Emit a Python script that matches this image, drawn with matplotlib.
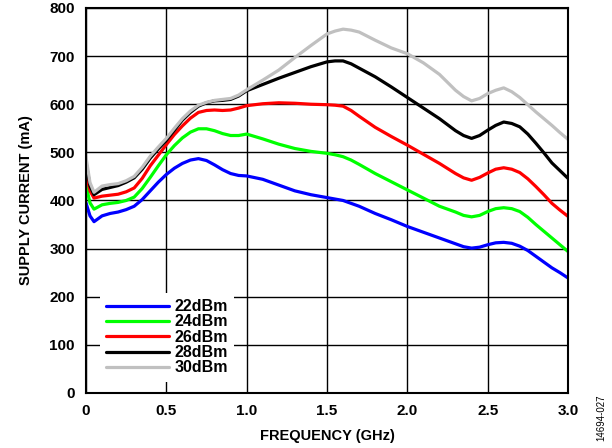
import matplotlib
matplotlib.use("Agg")
import matplotlib.pyplot as plt

plt.rcParams['font.family'] = ['Liberation Sans', 'DejaVu Sans']

# frequency points (GHz)
freq = [0, 0.025, 0.05, 0.1, 0.15, 0.2, 0.25, 0.3, 0.35, 0.4,
        0.45, 0.5, 0.55, 0.6, 0.65, 0.7, 0.75, 0.8, 0.85, 0.9,
        0.95, 1.0, 1.1, 1.2, 1.3, 1.4, 1.5, 1.55, 1.6, 1.65,
        1.7, 1.8, 1.9, 2.0, 2.1, 2.2, 2.3, 2.35, 2.4, 2.45,
        2.5, 2.55, 2.6, 2.65, 2.7, 2.75, 2.8, 2.85, 2.9, 2.95, 3.0]

# supply current (mA) per output power
i_22 = [395, 368, 356, 368, 373, 376, 381, 388, 402, 420,
        438, 454, 467, 477, 484, 487, 483, 474, 464, 456,
        452, 451, 444, 432, 420, 412, 406, 403, 400, 394,
        388, 373, 360, 346, 334, 322, 310, 304, 301, 303,
        308, 312, 313, 311, 305, 296, 284, 272, 260, 250, 239]
i_24 = [432, 395, 382, 391, 394, 396, 400, 407, 425, 448,
        472, 495, 514, 530, 542, 549, 549, 545, 539, 535,
        535, 538, 528, 517, 508, 502, 498, 495, 491, 484,
        475, 456, 439, 422, 405, 388, 376, 369, 366, 369,
        377, 383, 385, 383, 377, 365, 350, 336, 322, 308, 294]
i_26 = [458, 420, 405, 409, 411, 413, 418, 426, 446, 472,
        494, 516, 537, 555, 571, 583, 587, 588, 587, 588,
        592, 597, 601, 603, 602, 600, 599, 598, 596, 587,
        575, 552, 533, 515, 496, 477, 456, 447, 442, 448,
        457, 465, 468, 465, 458, 445, 429, 412, 394, 380, 367]
i_28 = [480, 430, 412, 423, 427, 431, 438, 447, 465, 488,
        507, 525, 546, 567, 583, 596, 603, 607, 608, 610,
        617, 628, 641, 654, 666, 678, 688, 690, 690, 684,
        675, 657, 636, 614, 592, 570, 545, 535, 529, 535,
        546, 556, 563, 560, 553, 538, 519, 499, 478, 462, 446]
i_30 = [490, 437, 417, 430, 433, 435, 441, 450, 469, 492,
        511, 529, 550, 570, 586, 598, 604, 608, 610, 612,
        619, 630, 650, 671, 697, 722, 746, 752, 756, 754,
        750, 733, 717, 705, 686, 662, 629, 616, 607, 612,
        622, 629, 634, 626, 614, 599, 584, 570, 556, 541, 527]

labels = ["22dBm", "24dBm", "26dBm", "28dBm", "30dBm"]
colors = ["#0000ff", "#00ff00", "#ff0000", "#000000", "#c0c0c0"]
series = [i_22, i_24, i_26, i_28, i_30]

fig = plt.figure(figsize=(6.12, 4.48), dpi=100)
ax = fig.add_axes([0.1405, 0.1228, 0.7876, 0.8594])

for y, c, lab in zip(series, colors, labels):
    ax.plot(freq, y, color=c, lw=2.3, label=lab,
            solid_capstyle="round", solid_joinstyle="round")

ax.set_xlim(0, 3.0)
ax.set_ylim(0, 800)
ax.set_xticks([0, 0.5, 1.0, 1.5, 2.0, 2.5, 3.0])
ax.set_xticklabels(["0", "0.5", "1.0", "1.5", "2.0", "2.5", "3.0"])
ax.set_yticks(range(0, 801, 100))
ax.grid(True, color="black", lw=1.0)
ax.set_axisbelow(True)
ax.tick_params(length=0, labelsize=11, pad=8)
for t in ax.get_xticklabels() + ax.get_yticklabels():
    t.set_fontweight("bold")
for s in ax.spines.values():
    s.set_linewidth(1.5)

ax.set_xlabel("FREQUENCY (GHz)", fontsize=10.5, fontweight="bold", labelpad=8)
ax.set_ylabel("SUPPLY CURRENT (mA)", fontsize=10.5, fontweight="bold", labelpad=12)

leg = ax.legend(loc="lower left", bbox_to_anchor=(0.029, 0.029), borderaxespad=0,
                handlelength=3.9, labelspacing=0.02, handletextpad=0.35,
                fancybox=False, framealpha=1, edgecolor="none",
                prop={"weight": "bold", "size": 11.5})

fig.text(0.983, 0.068, "14694-027", rotation=90, fontsize=7, ha="center", va="center")

fig.savefig("out.png", dpi=100)
